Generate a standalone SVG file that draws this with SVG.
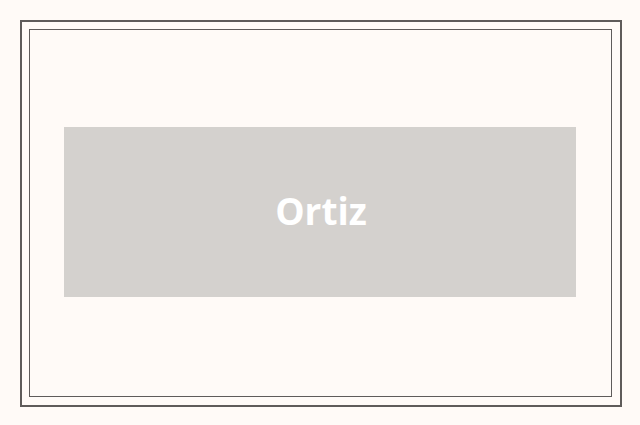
<svg xmlns="http://www.w3.org/2000/svg" width="640" height="425" viewBox="0 0 640 425">
<style>.lbl{font-family:"Open Sans","Noto Sans",sans-serif;font-weight:bold;font-size:37px;fill:#ffffff}</style>
<rect x="0" y="0" width="640" height="425" fill="#fffaf7"/>
<rect x="21" y="21" width="600" height="385" fill="none" stroke="#5f5b5a" stroke-width="2"/>
<rect x="29.5" y="29.5" width="582" height="367" fill="none" stroke="#5f5b5a" stroke-width="1"/>
<g id="node-ortiz">
<rect x="64" y="127" width="512" height="170" fill="#d4d1ce"/>
<text class="lbl" x="321" y="225" text-anchor="middle">Ortiz</text>
</g>
<g id="connectors"/>
</svg>
